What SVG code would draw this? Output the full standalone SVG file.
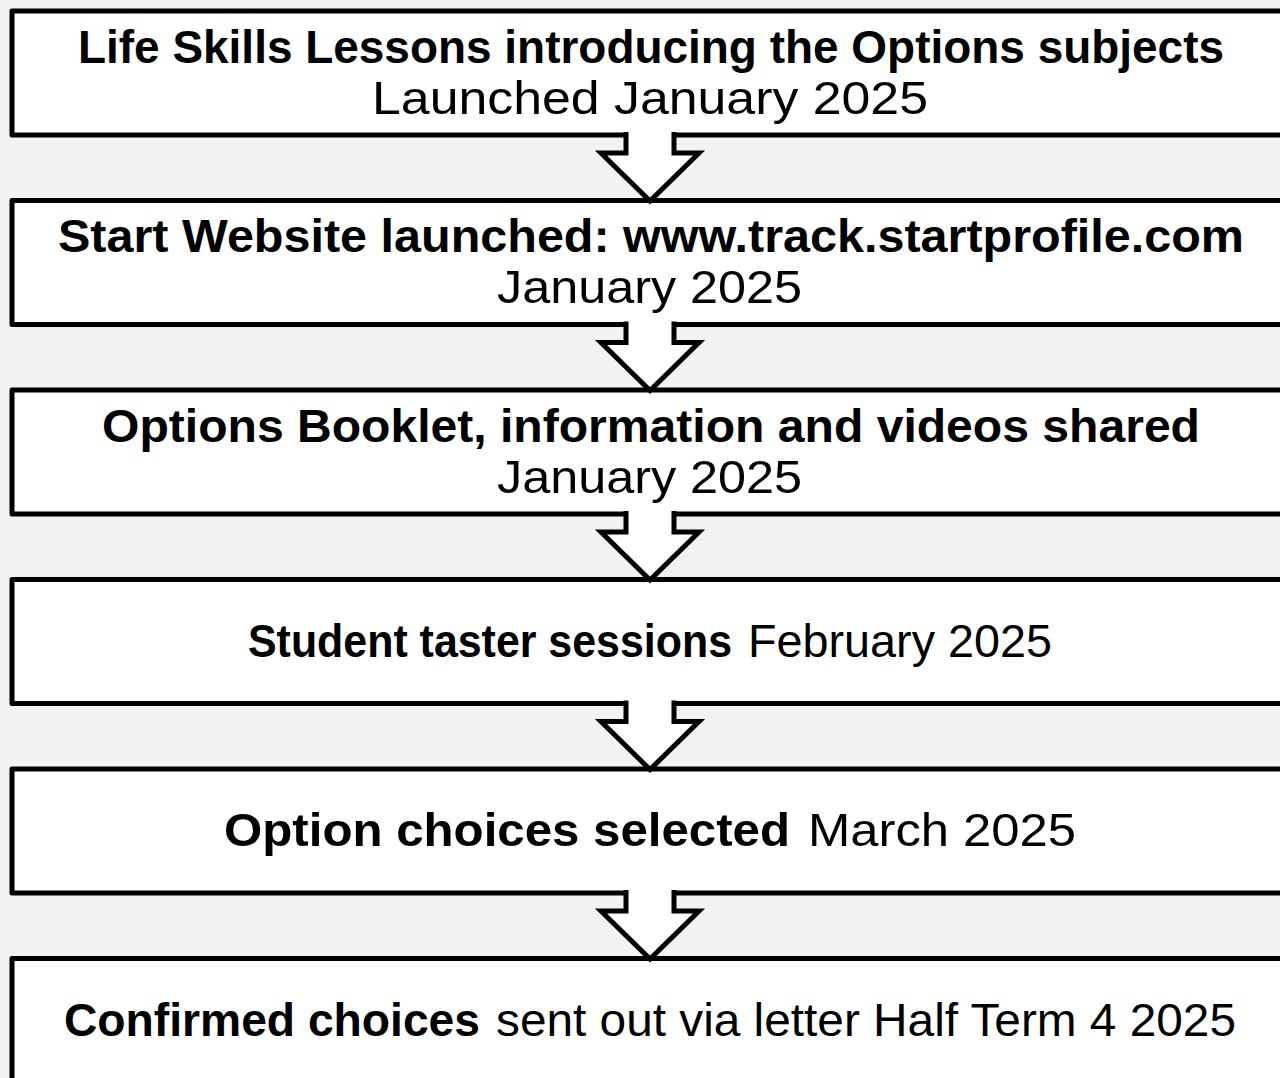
<svg xmlns="http://www.w3.org/2000/svg" width="1280" height="1078" viewBox="0 0 1280 1078">
<style>
.box{fill:#fff;stroke:#000;stroke-width:5;stroke-linejoin:round}
.b{font-family:"Liberation Sans",Arial,sans-serif;font-weight:bold;font-size:47px;fill:#000}
.r{font-family:"Liberation Sans",Arial,sans-serif;font-weight:normal;font-size:47px;fill:#000}
.af{fill:#fff;stroke:none}
.al{fill:none;stroke:#000;stroke-width:5;stroke-linejoin:miter}
</style>
<rect width="1280" height="1078" fill="#f2f2f2"/>
<g id="node1"><rect class="box" x="12" y="11" width="1300" height="124"/>
<text class="b" x="78" y="63" textLength="1146" lengthAdjust="spacingAndGlyphs">Life Skills Lessons introducing the Options subjects</text>
<text class="r" x="372" y="114" textLength="556" lengthAdjust="spacingAndGlyphs">Launched January 2025</text></g>
<g id="node2"><rect class="box" x="12" y="200.5" width="1300" height="124"/>
<text class="b" x="58" y="252" textLength="1186" lengthAdjust="spacingAndGlyphs">Start Website launched: www.track.startprofile.com</text>
<text class="r" x="497" y="303" textLength="305" lengthAdjust="spacingAndGlyphs">January 2025</text></g>
<g id="node3"><rect class="box" x="12" y="390" width="1300" height="124"/>
<text class="b" x="102" y="441.5" textLength="1098" lengthAdjust="spacingAndGlyphs">Options Booklet, information and videos shared</text>
<text class="r" x="497" y="492.5" textLength="305" lengthAdjust="spacingAndGlyphs">January 2025</text></g>
<g id="node4"><rect class="box" x="12" y="579.5" width="1300" height="124"/>
<text class="b" x="248" y="657" textLength="484" lengthAdjust="spacingAndGlyphs">Student taster sessions</text>
<text class="r" x="748" y="657" textLength="304" lengthAdjust="spacingAndGlyphs">February 2025</text></g>
<g id="node5"><rect class="box" x="12" y="769" width="1300" height="124"/>
<text class="b" x="224" y="846" textLength="566" lengthAdjust="spacingAndGlyphs">Option choices selected</text>
<text class="r" x="808" y="846" textLength="268" lengthAdjust="spacingAndGlyphs">March 2025</text></g>
<g id="node6"><rect class="box" x="12" y="958.5" width="1300" height="124"/>
<text class="b" x="64" y="1036" textLength="416" lengthAdjust="spacingAndGlyphs">Confirmed choices</text>
<text class="r" x="496" y="1036" textLength="740" lengthAdjust="spacingAndGlyphs">sent out via letter Half Term 4 2025</text></g>
<defs>
<g id="arr">
<polygon class="af" points="626,-3 674,-3 674,18 699,18 650,66 601,18 626,18"/>
<polyline class="al" points="626,-3 626,18 601,18 650,66 699,18 674,18 674,-3"/>
</g>
</defs>
<g id="connectors">
<use href="#arr" transform="translate(0,135)"/>
<use href="#arr" transform="translate(0,324.5)"/>
<use href="#arr" transform="translate(0,514)"/>
<use href="#arr" transform="translate(0,703.5)"/>
<use href="#arr" transform="translate(0,893)"/>
</g>
</svg>
